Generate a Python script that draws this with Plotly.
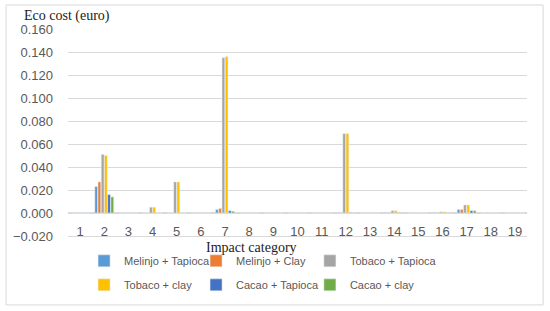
import plotly.graph_objects as go

categories = [str(i) for i in range(1, 20)]

melinjo_tapioca = [0, 0.023, 0, 0, 0, 0, 0.003, 0, 0, 0, 0, 0.0004, 0, 0.0004, 0, 0.0004, 0.003, 0, 0]
melinjo_clay = [0, 0.027, 0, 0, 0, 0, 0.004, 0, 0, 0, 0, 0.0002, 0, 0.0005, 0, 0.0002, 0.003, 0, 0]
tobaco_tapioca = [0, 0.051, 0, 0.005, 0.027, 0, 0.135, 0, 0, 0, 0, 0.069, 0, 0.002, 0, 0.001, 0.007, 0, 0]
tobaco_clay = [0, 0.050, 0, 0.005, 0.027, 0, 0.136, 0, 0, 0, 0, 0.069, 0, 0.002, 0, 0.001, 0.007, 0, 0]
cacao_tapioca = [0, 0.016, 0, 0, 0, 0, 0.002, 0, 0, 0, 0, 0.0004, 0, 0.0003, 0, 0.0002, 0.002, 0, 0]
cacao_clay = [0, 0.014, 0, 0, 0, 0, 0.0015, 0, 0, 0, 0, 0.0001, 0, 0.0002, 0, 0.0001, 0.002, 0, 0]

# (name, values, colour, legend column)
series = [
    ("Melinjo + Tapioca", melinjo_tapioca, "#5B9BD5", "legend"),
    ("Melinjo + Clay", melinjo_clay, "#ED7D31", "legend2"),
    ("Tobaco + Tapioca", tobaco_tapioca, "#A5A5A5", "legend3"),
    ("Tobaco + clay", tobaco_clay, "#FFC000", "legend"),
    ("Cacao + Tapioca", cacao_tapioca, "#4472C4", "legend2"),
    ("Cacao + clay", cacao_clay, "#70AD47", "legend3"),
]

fig = go.Figure()
for name, vals, color, leg in series:
    fig.add_trace(go.Bar(x=categories, y=vals, name=name, marker=dict(color=color),
                         legend=leg, legendgroup=name))

grey = "#595959"
serif = "Liberation Serif, Times New Roman, serif"


def legend_col(xpos):
    return dict(orientation="v", x=xpos, y=-0.05, xanchor="left", yanchor="top",
                font=dict(size=11, color=grey), tracegroupgap=5, itemwidth=30,
                bgcolor="rgba(0,0,0,0)")


fig.update_layout(
    width=550, height=311,
    barmode="group", bargap=0.2, bargroupgap=0.15,
    plot_bgcolor="white", paper_bgcolor="white",
    margin=dict(l=68, r=23, t=29, b=75),
    font=dict(family="Liberation Sans, Arial, sans-serif", color=grey, size=12),
    showlegend=True,
    legend=legend_col(0.035),
    legend2=legend_col(0.279),
    legend3=legend_col(0.527),
    # bottom axis line doubles as the -0.020 gridline
    xaxis=dict(type="category", showgrid=False, ticks="", ticklabelposition="outside",
               ticklabelstandoff=-17, tickfont=dict(size=13, color=grey),
               showline=True, linecolor="#D9D9D9", linewidth=1, zeroline=False),
    yaxis=dict(range=[-0.02, 0.16], tick0=0, dtick=0.02, tickformat=".3f", showgrid=True,
               gridcolor="#D9D9D9", gridwidth=1, zeroline=True, zerolinecolor="#D9D9D9",
               ticklabelstandoff=14, tickfont=dict(size=13, color=grey), ticks="",
               showline=False),
    annotations=[
        dict(text="Impact category", xref="paper", yref="paper", x=0.4, y=-0.056,
             xanchor="center", yanchor="middle", showarrow=False,
             font=dict(family=serif, size=14, color="#222222")),
        dict(text="Eco cost (euro)", xref="paper", yref="paper", x=-0.1, y=1.11,
             xanchor="left", yanchor="top", showarrow=False,
             font=dict(family=serif, size=14, color="#222222")),
    ],
    shapes=[
        dict(type="rect", xref="paper", yref="paper", x0=-0.135, x1=1.035, y0=-0.333, y1=1.116,
             line=dict(color="#D9D9D9", width=1)),
    ],
)

fig.write_html("out.html", config=dict(displayModeBar=False),
               post_script="document.body.style.margin='0px';")
